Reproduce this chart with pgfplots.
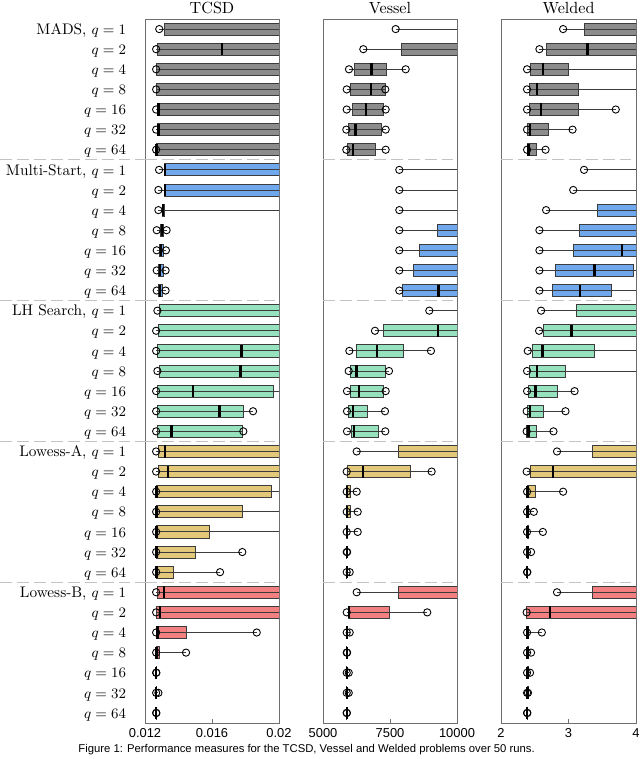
\documentclass[border=0pt]{standalone}
\usepackage{fontspec}
\setsansfont{Liberation Sans}
\usepackage{pgfplots}
\pgfplotsset{compat=1.18}
\usepgfplotslibrary{statistics}

\definecolor{cMADS}{RGB}{140,140,140}
\definecolor{cMS}{RGB}{112,168,238}
\definecolor{cLH}{RGB}{150,226,190}
\definecolor{cLA}{RGB}{226,200,120}
\definecolor{cLB}{RGB}{242,128,128}
\definecolor{boxedge}{RGB}{60,60,60}
\definecolor{axisgray}{RGB}{110,110,110}
\definecolor{sepgray}{RGB}{195,195,195}

\tikzset{
  whisk/.style={draw=boxedge, line width=0.55pt},
  medl/.style={draw=black, line width=1.5pt},
  circ/.style={draw=black, line width=0.55pt, fill=none},
  sep/.style={draw=sepgray, line width=0.65pt, dash pattern=on 7.4pt off 3.1pt},
}

% box, whisker line through it, median, open circles at both whisker ends
\pgfplotsset{
  /pgfplots/boxplot/draw/lower whisker/.code={},
  /pgfplots/boxplot/draw/upper whisker/.code={},
  /pgfplots/boxplot/draw/box/.code={%
    \draw[/pgfplots/boxplot/every box/.try]
      (boxplot box cs:\pgfplotsboxplotvalue{lower quartile},0) rectangle
      (boxplot box cs:\pgfplotsboxplotvalue{upper quartile},1);
  },
  /pgfplots/boxplot/draw/median/.code={%
    \draw[whisk] (boxplot box cs:\pgfplotsboxplotvalue{lower whisker},0.5) --
      (boxplot box cs:\pgfplotsboxplotvalue{upper whisker},0.5);
    \draw[medl] (boxplot box cs:\pgfplotsboxplotvalue{median},0) --
      (boxplot box cs:\pgfplotsboxplotvalue{median},1);
    \draw[circ] (boxplot box cs:\pgfplotsboxplotvalue{lower whisker},0.5) circle[radius=2.25pt];
    \draw[circ] (boxplot box cs:\pgfplotsboxplotvalue{upper whisker},0.5) circle[radius=2.25pt];
  },
  panel/.style={
    scale only axis, height=436.48pt, anchor=south west,
    y dir=reverse, ymin=0.5, ymax=35.5,
    ytick={1,...,35}, ytick style={draw=none},
    axis line style={draw=axisgray, line width=0.6pt},
    xtick pos=left, major tick length=2.5pt,
    xtick style={draw=axisgray, line width=0.6pt},
    xticklabel style={font=\sffamily\fontsize{8}{9}\selectfont, anchor=base, yshift=-9pt},
    title style={at={(0.5,1)}, anchor=base, yshift=-2.3pt, inner sep=0pt},
    extra y ticks={7.5,14.5,21.5,28.5}, extra y tick labels={},
    extra y tick style={grid=major, major grid style={sep}},
    boxplot/draw direction=x, boxplot/box extend=0.6,
  },
}

\newcommand{\bx}[7]{\addplot[boxplot prepared={draw position=#2, lower whisker=#3,
  lower quartile=#4, median=#5, upper quartile=#6, upper whisker=#7},
  boxplot/every box/.style={draw=boxedge, fill=#1, line width=0.5pt}] coordinates {};}

\begin{document}
\begin{tikzpicture}
\useasboundingbox (0,0) rectangle (396.8pt,-470.58pt);

% TCSD
\begin{axis}[panel, at={(89.9pt,-448.26pt)}, width=83.08pt,
  title={TCSD}, xmin=0.012, xmax=0.02,
  xtick={0.012,0.016,0.02}, xticklabels={0.012,0.016,0.02},
  yticklabels={{MADS, $q=1$},{$q=2$},{$q=4$},{$q=8$},{$q=16$},{$q=32$},{$q=64$},
    {Multi-Start, $q=1$},{$q=2$},{$q=4$},{$q=8$},{$q=16$},{$q=32$},{$q=64$},
    {LH Search, $q=1$},{$q=2$},{$q=4$},{$q=8$},{$q=16$},{$q=32$},{$q=64$},
    {Lowess-A, $q=1$},{$q=2$},{$q=4$},{$q=8$},{$q=16$},{$q=32$},{$q=64$},
    {Lowess-B, $q=1$},{$q=2$},{$q=4$},{$q=8$},{$q=16$},{$q=32$},{$q=64$}},
  yticklabel style={font=\fontsize{9.5}{10}\selectfont, anchor=base east,
    inner xsep=0pt, xshift=-11.5pt, yshift=-3.2pt},
]
\bx{cMADS}{1}{0.01285}{0.01315}{0.025}{0.03}{0.04}
\bx{cMADS}{2}{0.012665}{0.01276}{0.0166}{0.03}{0.04}
\bx{cMADS}{3}{0.012665}{0.01267}{0.024}{0.03}{0.04}
\bx{cMADS}{4}{0.012665}{0.01267}{0.024}{0.03}{0.04}
\bx{cMADS}{5}{0.012665}{0.01276}{0.0128}{0.03}{0.04}
\bx{cMADS}{6}{0.012665}{0.01276}{0.0128}{0.03}{0.04}
\bx{cMADS}{7}{0.012665}{0.01267}{0.01268}{0.03}{0.04}
\bx{cMS}{8}{0.01284}{0.01313}{0.01319}{0.03}{0.04}
\bx{cMS}{9}{0.0128}{0.01313}{0.01319}{0.03}{0.04}
\bx{cMS}{10}{0.0128}{0.01305}{0.01309}{0.01315}{0.04}
\bx{cMS}{11}{0.0127}{0.0129}{0.01303}{0.01309}{0.01329}
\bx{cMS}{12}{0.0127}{0.01284}{0.01297}{0.01309}{0.01325}
\bx{cMS}{13}{0.0127}{0.0128}{0.0129}{0.01309}{0.01323}
\bx{cMS}{14}{0.0127}{0.0128}{0.0129}{0.01302}{0.01323}
\bx{cLH}{15}{0.01274}{0.01285}{0.025}{0.03}{0.04}
\bx{cLH}{16}{0.012665}{0.0128}{0.025}{0.03}{0.04}
\bx{cLH}{17}{0.012665}{0.01274}{0.01775}{0.03}{0.04}
\bx{cLH}{18}{0.01274}{0.01285}{0.01769}{0.03}{0.04}
\bx{cLH}{19}{0.012665}{0.01274}{0.01487}{0.01964}{0.03}
\bx{cLH}{20}{0.012665}{0.01274}{0.01646}{0.01787}{0.01845}
\bx{cLH}{21}{0.012665}{0.01274}{0.01357}{0.01779}{0.01787}
\bx{cLA}{22}{0.012665}{0.01278}{0.01318}{0.03}{0.04}
\bx{cLA}{23}{0.012665}{0.01278}{0.01339}{0.03}{0.04}
\bx{cLA}{24}{0.012665}{0.01267}{0.01268}{0.01954}{0.03}
\bx{cLA}{25}{0.012665}{0.01267}{0.01268}{0.01781}{0.03}
\bx{cLA}{26}{0.012665}{0.01267}{0.01268}{0.01586}{0.03}
\bx{cLA}{27}{0.012665}{0.01267}{0.01268}{0.01499}{0.01781}
\bx{cLA}{28}{0.012665}{0.01267}{0.01268}{0.01371}{0.01648}
\bx{cLB}{29}{0.012665}{0.01276}{0.01315}{0.03}{0.04}
\bx{cLB}{30}{0.012665}{0.0127}{0.0129}{0.03}{0.04}
\bx{cLB}{31}{0.012665}{0.01267}{0.01274}{0.01445}{0.01867}
\bx{cLB}{32}{0.012665}{0.01267}{0.01268}{0.01285}{0.01445}
\bx{cLB}{33}{0.012665}{0.012665}{0.01267}{0.01267}{0.01268}
\bx{cLB}{34}{0.012665}{0.012665}{0.01267}{0.01268}{0.0128}
\bx{cLB}{35}{0.012665}{0.012665}{0.01267}{0.01267}{0.01268}
\end{axis}

% Vessel
\begin{axis}[panel, at={(200.26pt,-448.26pt)}, width=83.08pt,
  title={Vessel}, xmin=5000, xmax=10000,
  xtick={5000,7500,10000}, xticklabels={5000,7500,10000}, yticklabels={},
]
\bx{cMADS}{1}{7712}{10500}{11000}{12000}{13000}
\bx{cMADS}{2}{6504}{7935}{11000}{12000}{13000}
\bx{cMADS}{3}{5970}{6168}{6803}{7376}{8085}
\bx{cMADS}{4}{5885}{6019}{6790}{7324}{7324}
\bx{cMADS}{5}{5885}{6108}{6615}{7264}{7339}
\bx{cMADS}{6}{5870}{5958}{6220}{7175}{7339}
\bx{cMADS}{7}{5870}{5920}{6130}{6966}{7339}
\bx{cMS}{8}{7847}{10500}{11000}{12000}{13000}
\bx{cMS}{9}{7847}{10500}{11000}{12000}{13000}
\bx{cMS}{10}{7847}{10500}{11000}{12000}{13000}
\bx{cMS}{11}{7847}{9264}{11000}{12000}{13000}
\bx{cMS}{12}{7847}{8607}{11000}{12000}{13000}
\bx{cMS}{13}{7847}{8357}{11000}{12000}{13000}
\bx{cMS}{14}{7847}{7958}{9316}{12000}{13000}
\bx{cLH}{15}{8966}{10500}{11000}{12000}{13000}
\bx{cLH}{16}{6940}{7264}{9301}{12000}{13000}
\bx{cLH}{17}{5983}{6257}{7025}{7984}{9028}
\bx{cLH}{18}{5958}{6033}{6257}{7339}{7462}
\bx{cLH}{19}{5895}{6007}{6343}{7264}{7339}
\bx{cLH}{20}{5895}{5958}{6130}{6653}{7313}
\bx{cLH}{21}{5895}{6070}{6157}{7063}{7324}
\bx{cLA}{22}{6257}{7823}{11000}{12000}{13000}
\bx{cLA}{23}{5885}{5920}{6492}{8271}{9054}
\bx{cLA}{24}{5885}{5885}{5900}{6020}{6257}
\bx{cLA}{25}{5885}{5885}{5890}{6020}{6294}
\bx{cLA}{26}{5885}{5885}{5890}{5920}{6294}
\bx{cLA}{27}{5885}{5885}{5886}{5890}{5900}
\bx{cLA}{28}{5885}{5885}{5886}{5890}{5995}
\bx{cLB}{29}{6257}{7823}{11000}{12000}{13000}
\bx{cLB}{30}{5885}{5945}{5970}{7474}{8890}
\bx{cLB}{31}{5885}{5885}{5890}{5900}{5995}
\bx{cLB}{32}{5885}{5885}{5886}{5890}{5900}
\bx{cLB}{33}{5885}{5885}{5886}{5890}{5960}
\bx{cLB}{34}{5885}{5885}{5886}{5890}{5960}
\bx{cLB}{35}{5885}{5885}{5886}{5888}{5890}
\end{axis}

% Welded
\begin{axis}[panel, at={(310.62pt,-448.26pt)}, width=83.7pt,
  title={Welded}, xmin=2, xmax=4,
  xtick={2,3,4}, xticklabels={2,3,4}, yticklabels={},
]
\bx{cMADS}{1}{2.92}{3.237}{4.5}{5}{5.5}
\bx{cMADS}{2}{2.569}{2.673}{3.28}{5}{5.5}
\bx{cMADS}{3}{2.386}{2.43}{2.62}{3.005}{5}
\bx{cMADS}{4}{2.386}{2.42}{2.535}{3.14}{5}
\bx{cMADS}{5}{2.386}{2.42}{2.59}{3.14}{3.70}
\bx{cMADS}{6}{2.386}{2.396}{2.43}{2.70}{3.06}
\bx{cMADS}{7}{2.386}{2.386}{2.405}{2.52}{2.66}
\bx{cMS}{8}{3.23}{4.5}{4.7}{5}{5.5}
\bx{cMS}{9}{3.07}{4.3}{4.7}{5}{5.5}
\bx{cMS}{10}{2.668}{3.435}{4.5}{5}{5.5}
\bx{cMS}{11}{2.569}{3.163}{4.5}{5}{5.5}
\bx{cMS}{12}{2.569}{3.07}{3.79}{5}{5.5}
\bx{cMS}{13}{2.569}{2.80}{3.386}{3.965}{5}
\bx{cMS}{14}{2.569}{2.762}{3.17}{3.63}{5}
\bx{cLH}{15}{2.594}{3.118}{4.5}{5}{5.5}
\bx{cLH}{16}{2.564}{2.634}{3.044}{5}{5.5}
\bx{cLH}{17}{2.396}{2.47}{2.613}{3.38}{5}
\bx{cLH}{18}{2.386}{2.42}{2.535}{2.955}{5}
\bx{cLH}{19}{2.386}{2.41}{2.51}{2.83}{3.09}
\bx{cLH}{20}{2.38}{2.39}{2.43}{2.63}{2.955}
\bx{cLH}{21}{2.38}{2.38}{2.41}{2.52}{2.777}
\bx{cLA}{22}{2.83}{3.356}{4.5}{5}{5.5}
\bx{cLA}{23}{2.38}{2.43}{2.77}{5}{5.5}
\bx{cLA}{24}{2.386}{2.386}{2.39}{2.515}{2.92}
\bx{cLA}{25}{2.386}{2.386}{2.39}{2.40}{2.486}
\bx{cLA}{26}{2.386}{2.386}{2.39}{2.40}{2.62}
\bx{cLA}{27}{2.386}{2.386}{2.39}{2.40}{2.445}
\bx{cLA}{28}{2.386}{2.386}{2.387}{2.39}{2.39}
\bx{cLB}{29}{2.83}{3.356}{4.5}{5}{5.5}
\bx{cLB}{30}{2.38}{2.38}{2.73}{5}{5.5}
\bx{cLB}{31}{2.386}{2.386}{2.39}{2.40}{2.605}
\bx{cLB}{32}{2.386}{2.386}{2.39}{2.40}{2.445}
\bx{cLB}{33}{2.386}{2.386}{2.39}{2.40}{2.43}
\bx{cLB}{34}{2.386}{2.386}{2.39}{2.40}{2.40}
\bx{cLB}{35}{2.386}{2.386}{2.387}{2.39}{2.39}
\end{axis}

% group separators through the label column
\foreach \yy in {99.08,186.37,273.67,360.96}
  \draw[sep] (0pt,-\yy pt) -- (89.9pt,-\yy pt);

% caption along the bottom edge
\node[anchor=base west, inner sep=0pt, font=\sffamily\fontsize{7}{8}\selectfont]
  at (48.4pt,-466.3pt) {Figure 1: Performance measures for the TCSD, Vessel and Welded problems over 50 runs.};
\end{tikzpicture}
\end{document}
